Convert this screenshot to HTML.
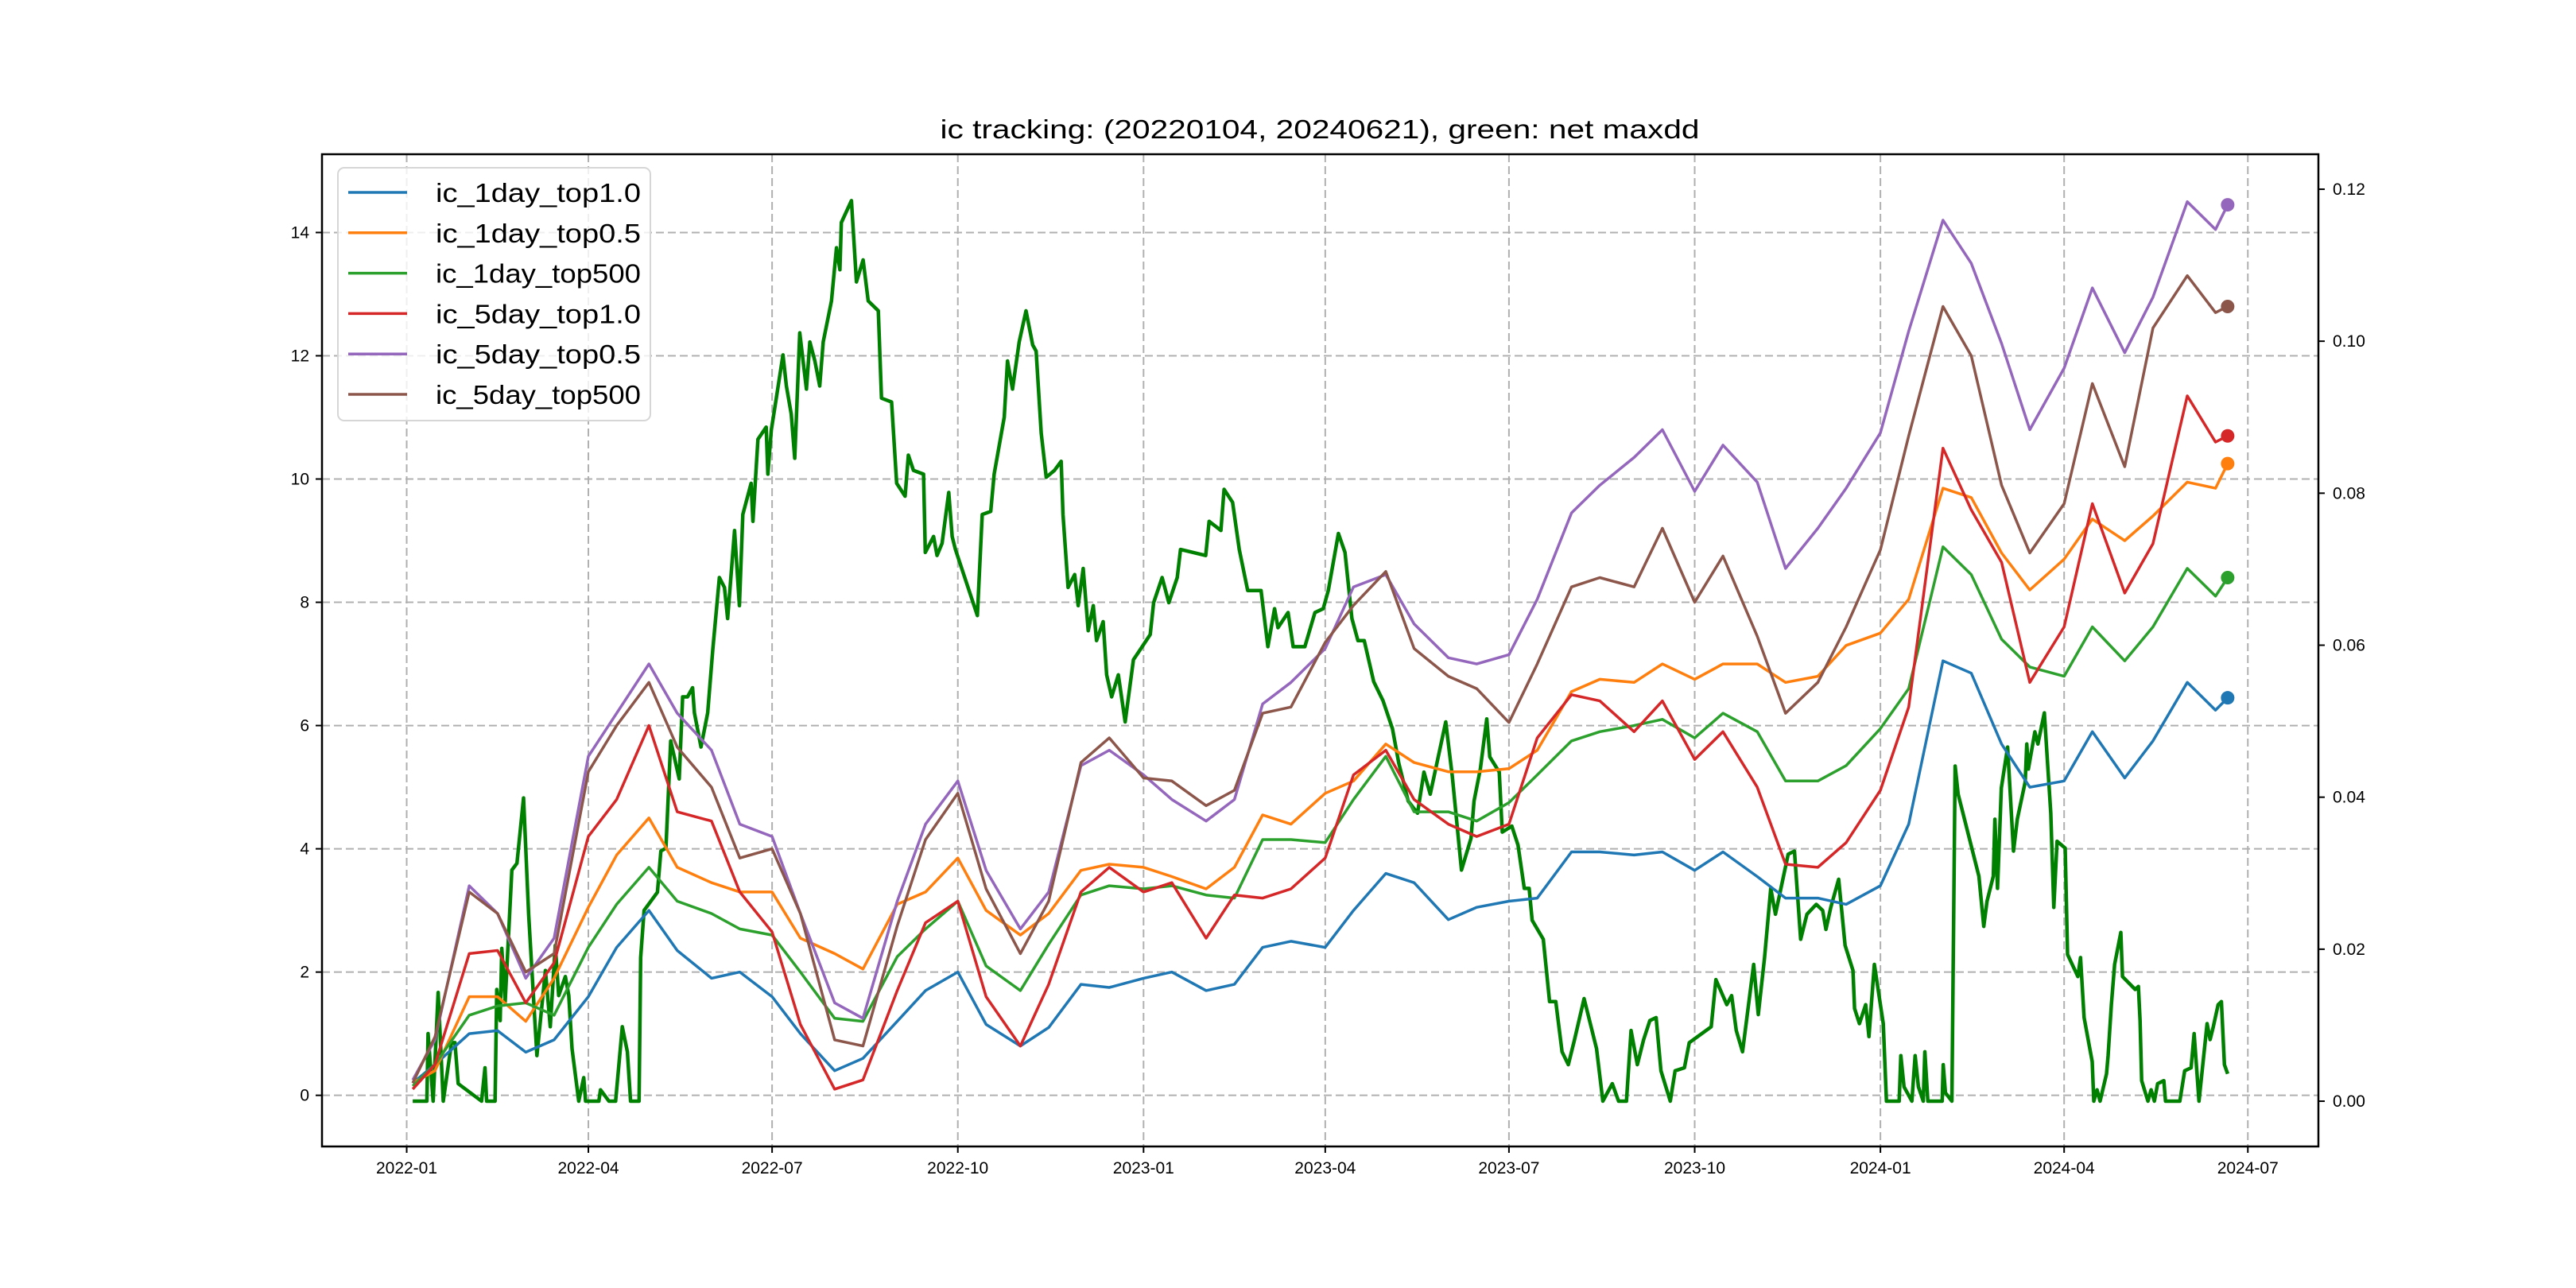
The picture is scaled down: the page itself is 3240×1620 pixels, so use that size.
<!DOCTYPE html>
<html><head><meta charset="utf-8"><title>ic tracking</title>
<style>html,body{margin:0;padding:0;background:#fff;}svg{display:block;}
text{font-family:"Liberation Sans","WenQuanYi Zen Hei",sans-serif;}</style></head>
<body>
<svg id="chart" xmlns="http://www.w3.org/2000/svg" width="3240" height="1620" viewBox="0 0 3240 1620">
<rect width="3240" height="1620" fill="#fff"/>
<text x="1660" y="174" font-size="33" text-anchor="middle" textLength="955" lengthAdjust="spacingAndGlyphs">ic tracking: (20220104, 20240621), green: net maxdd</text>
<g id="grid"></g>
<g id="series"></g>
<rect x="405" y="194" width="2511" height="1248" fill="none" stroke="#000" stroke-width="2.5"/>
<g id="axes"></g>
<g id="legend"></g>
</svg>
<script>
const dates = ["2022-01-04","2022-01-15","2022-02-01","2022-02-15","2022-03-01","2022-03-15","2022-04-01","2022-04-15","2022-05-01","2022-05-15","2022-06-01","2022-06-15","2022-07-01","2022-07-15","2022-08-01","2022-08-15","2022-09-01","2022-09-15","2022-10-01","2022-10-15","2022-11-01","2022-11-15","2022-12-01","2022-12-15","2023-01-01","2023-01-15","2023-02-01","2023-02-15","2023-03-01","2023-03-15","2023-04-01","2023-04-15","2023-05-01","2023-05-15","2023-06-01","2023-06-15","2023-07-01","2023-07-15","2023-08-01","2023-08-15","2023-09-01","2023-09-15","2023-10-01","2023-10-15","2023-11-01","2023-11-15","2023-12-01","2023-12-15","2024-01-01","2024-01-15","2024-02-01","2024-02-15","2024-03-01","2024-03-15","2024-04-01","2024-04-15","2024-05-01","2024-05-15","2024-06-01","2024-06-15","2024-06-21"];
const ic1dayTop10 = [0.2,0.5,1.0,1.05,0.7,0.9,1.6,2.4,3.0,2.35,1.9,2.0,1.6,1.0,0.4,0.6,1.2,1.7,2.0,1.15,0.8,1.1,1.8,1.75,1.9,2.0,1.7,1.8,2.4,2.5,2.4,3.0,3.6,3.45,2.85,3.05,3.15,3.2,3.95,3.95,3.9,3.95,3.65,3.95,3.55,3.2,3.2,3.1,3.4,4.4,7.05,6.85,5.7,5.0,5.1,5.9,5.15,5.75,6.7,6.25,6.45];
const ic1dayTop05 = [0.2,0.4,1.6,1.6,1.2,1.9,3.05,3.9,4.5,3.7,3.45,3.3,3.3,2.55,2.3,2.05,3.1,3.3,3.85,3.0,2.6,2.95,3.65,3.75,3.7,3.55,3.35,3.7,4.55,4.4,4.9,5.1,5.7,5.4,5.25,5.25,5.3,5.6,6.55,6.75,6.7,7.0,6.75,7.0,7.0,6.7,6.8,7.3,7.5,8.05,9.85,9.7,8.8,8.2,8.7,9.35,9.0,9.4,9.95,9.85,10.25];
const ic1dayTop500 = [0.15,0.5,1.3,1.45,1.5,1.3,2.4,3.1,3.7,3.15,2.95,2.7,2.6,2.0,1.25,1.2,2.25,2.7,3.15,2.1,1.7,2.45,3.25,3.4,3.35,3.4,3.25,3.2,4.15,4.15,4.1,4.8,5.5,4.6,4.6,4.45,4.75,5.2,5.75,5.9,6.0,6.1,5.8,6.2,5.9,5.1,5.1,5.35,5.95,6.6,8.9,8.45,7.4,6.95,6.8,7.6,7.05,7.6,8.55,8.1,8.4];
const ic5dayTop10 = [0.1,0.5,2.3,2.35,1.5,2.15,4.2,4.8,6.0,4.6,4.45,3.3,2.65,1.15,0.1,0.25,1.7,2.8,3.15,1.6,0.8,1.8,3.3,3.7,3.3,3.45,2.55,3.25,3.2,3.35,3.85,5.2,5.6,4.8,4.4,4.2,4.4,5.8,6.5,6.4,5.9,6.4,5.45,5.9,5.0,3.75,3.7,4.1,4.95,6.3,10.5,9.5,8.65,6.7,7.6,9.6,8.15,8.95,11.35,10.6,10.7];
const ic5dayTop05 = [0.25,0.9,3.4,2.95,1.9,2.55,5.5,6.2,7.0,6.2,5.6,4.4,4.2,2.95,1.5,1.25,3.15,4.4,5.1,3.65,2.7,3.3,5.35,5.6,5.2,4.8,4.45,4.8,6.35,6.7,7.25,8.25,8.45,7.65,7.1,7.0,7.15,8.05,9.45,9.9,10.35,10.8,9.8,10.55,9.95,8.55,9.2,9.85,10.75,12.4,14.2,13.5,12.2,10.8,11.8,13.1,12.05,12.95,14.5,14.05,14.45];
const ic5dayTop500 = [0.2,0.95,3.3,2.95,2.0,2.3,5.25,6.0,6.7,5.65,5.0,3.85,4.0,2.95,0.9,0.8,2.75,4.15,4.9,3.35,2.3,3.15,5.4,5.8,5.15,5.1,4.7,4.95,6.2,6.3,7.35,7.95,8.5,7.25,6.8,6.6,6.05,7.0,8.25,8.4,8.25,9.2,8.0,8.75,7.45,6.2,6.7,7.6,8.85,10.7,12.8,12.0,9.9,8.8,9.6,11.55,10.2,12.45,13.3,12.7,12.8];
// net maxdd (right axis): days since 2022-01-01 and values
const maxddDays = [3,10,10.6,13.1,15.6,18.1,22.2,23.9,25.5,37.1,38.8,39.6,43.8,44.6,46.3,47.1,48.8,52.1,54.6,57.9,60.4,64.5,68.7,71.1,73.6,75.3,78.6,80.3,81.9,85.2,87.7,88.6,95.2,96,100.2,103.5,106.8,109.3,110.9,115.1,115.9,117.6,124.2,125.9,128.4,130.8,135,136.7,139.1,141.6,142.5,145.8,149.1,151.6,154.9,157.4,159,162.4,164.8,166.5,170.6,171.5,174,178.1,178.9,180.6,183.1,186.4,188.1,190.5,192.2,194.7,198,199.7,202.2,204.6,206.3,210.4,212.9,214.6,215.3,220.3,222.8,226.1,228.6,233.6,235.2,240.2,242.7,246.9,248.5,251,256,256.9,261,262.7,265.2,268.5,270.2,271.8,282.7,285.1,289.3,291,296,297.6,300.1,303.4,306.8,310.1,311.8,314.3,316.8,320.9,324.2,325.1,327.6,330.9,332.6,335.1,337.6,340.1,341.7,345,346.7,349.2,352.5,355.9,360,363.3,368.3,370,374.2,377.5,381.7,383.3,395.8,397.5,403.3,404.9,409.1,412.4,416.6,423.2,426.6,429.9,431.6,436.6,439.1,444.9,449.9,454,456.5,461.5,464.8,468.2,471.2,474.3,479,483.6,488.3,491.4,496.1,500.7,503.9,507,514.7,517.9,522.5,527.2,528.7,531.8,535,536.5,541.2,542.7,547.4,550.5,553.6,556,557.5,563,566.1,569.2,572.3,575.4,578.5,583.2,589.4,592.5,597.2,600.3,604.2,606.5,609.6,612.7,615.8,618.9,621.3,625.9,628.3,632.9,635.3,646.2,648.5,653.9,656.3,658.6,661.7,667.2,669.5,672.6,675.7,678,684.3,687.4,690.5,693.6,698.2,701.4,703,705.4,709.3,712.5,716.4,717.2,719.6,722.7,724.3,727,731.4,733,739.3,740.1,741.7,745.6,747.2,748.8,751.2,752,753.5,760.6,761.1,762.2,765.4,767,768.5,778.8,781.2,782.8,785.9,786.7,788,789.9,793,795.9,797.8,801.7,802.5,803.3,806.5,808,811.2,814.4,815.9,817.5,821.5,822.7,827.8,829.1,830.9,834.9,835.7,837.3,838.8,842,842.8,844.4,846,849.1,849.9,856.2,857.8,858.6,859.4,862.5,864.1,865.7,867.3,870.4,871.2,878.3,880.7,883.9,885.4,887.8,891.8,893.3,894.9,897.3,898.9,900.4,902];
const maxddValues = [0,0,0.0089,0,0.0143,0,0.0077,0.0077,0.0023,0,0.0044,0,0,0.0147,0.0106,0.0201,0.0131,0.0304,0.0313,0.0399,0.0246,0.006,0.0172,0.0098,0.0205,0.0139,0.0164,0.0139,0.0069,0,0.0031,0,0,0.0015,0,0,0.0098,0.0065,0,0,0.0189,0.0251,0.0275,0.0329,0.0333,0.0474,0.0424,0.0532,0.0532,0.0544,0.0511,0.0466,0.0511,0.0594,0.0689,0.0676,0.0635,0.0751,0.0652,0.0772,0.0813,0.0763,0.0871,0.0887,0.0825,0.0883,0.0925,0.0982,0.0941,0.0904,0.0846,0.1011,0.0937,0.0999,0.0974,0.0941,0.0999,0.1053,0.1123,0.1094,0.1156,0.1185,0.1078,0.1107,0.1053,0.104,0.0925,0.092,0.0813,0.0796,0.085,0.083,0.0825,0.0722,0.0743,0.0718,0.0734,0.0801,0.0743,0.0726,0.0639,0.0772,0.0776,0.0825,0.09,0.0974,0.0937,0.0999,0.104,0.0995,0.0987,0.0879,0.0821,0.083,0.0842,0.0772,0.0676,0.0693,0.0652,0.0701,0.0619,0.0652,0.0606,0.0631,0.0561,0.0532,0.0561,0.0499,0.0581,0.0594,0.0614,0.0656,0.0689,0.0656,0.0689,0.0726,0.0718,0.0763,0.0751,0.0805,0.0788,0.0726,0.0672,0.0672,0.0598,0.0648,0.0623,0.0643,0.0598,0.0598,0.0643,0.0648,0.0672,0.0747,0.0722,0.0635,0.0606,0.0606,0.0552,0.0527,0.049,0.0445,0.0395,0.0379,0.0433,0.0404,0.0499,0.0428,0.0304,0.0346,0.0395,0.0437,0.0503,0.0453,0.0433,0.0354,0.0362,0.0337,0.028,0.028,0.0238,0.0213,0.0131,0.0131,0.0065,0.0048,0.0081,0.0135,0.0069,0,0.0023,0,0,0.0093,0.0048,0.0081,0.0106,0.011,0.004,0,0.004,0.0044,0.0077,0.0098,0.016,0.0127,0.0139,0.0093,0.0065,0.018,0.0114,0.0189,0.028,0.0246,0.0325,0.0329,0.0213,0.0246,0.0259,0.0251,0.0226,0.0255,0.0292,0.0205,0.0172,0.0122,0.0102,0.0127,0.0085,0.018,0.0102,0,0,0.006,0.0019,0,0.006,0.0019,0,0.0065,0,0,0.0048,0.0011,0,0.0441,0.0404,0.0296,0.023,0.0263,0.0296,0.0371,0.028,0.0412,0.0466,0.0329,0.0371,0.042,0.047,0.0437,0.0486,0.047,0.0511,0.0379,0.0255,0.0342,0.0333,0.0193,0.0164,0.0189,0.011,0.0052,0,0.0015,0,0.0036,0.006,0.0127,0.018,0.0222,0.0164,0.0147,0.0151,0.0106,0.0027,0,0.0015,0,0.0023,0.0027,0,0,0.004,0.0044,0.0089,0,0.0102,0.0081,0.0098,0.0127,0.0131,0.0048,0.0036];
const seriesNames = ["ic_1day_top1.0","ic_1day_top0.5","ic_1day_top500","ic_5day_top1.0","ic_5day_top0.5","ic_5day_top500"];
const leftTicks = [0,2,4,6,8,10,12,14];
const rightTicks = [0,0.02,0.04,0.06,0.08,0.10,0.12];
const xTickLabels = ["2022-01","2022-04","2022-07","2022-10","2023-01","2023-04","2023-07","2023-10","2024-01","2024-04","2024-07"];

const NS="http://www.w3.org/2000/svg";
const PL=405, PR=2916, PT=194, PB=1442;
const DAY=86400000, BASE=Date.UTC(2022,0,1);
function dayOf(s){const p=s.split("-").map(Number);return (Date.UTC(p[0],p[1]-1,p[2]||1)-BASE)/DAY;}
const d0=dayOf(dates[0]), d1=dayOf(dates[dates.length-1]), span=d1-d0;
const xMin=d0-0.05*span, xMax=d1+0.05*span;
function xScale(d){return PL+(d-xMin)/(xMax-xMin)*(PR-PL);}
const yLMin=-0.83, yLMax=15.27;
function yLeft(v){return PB-(v-yLMin)/(yLMax-yLMin)*(PB-PT);}
const yRMin=-0.00596, yRMax=0.1246;
function yRight(v){return PB-(v-yRMin)/(yRMax-yRMin)*(PB-PT);}
function mk(tag,attrs,parent){const e=document.createElementNS(NS,tag);for(const k in attrs)e.setAttribute(k,attrs[k]);parent.appendChild(e);return e;}

const grid=document.getElementById("grid"), axes=document.getElementById("axes");
leftTicks.forEach(t=>{const y=yLeft(t);
  const g=mk("line",{x1:PL,x2:PR,y1:y,y2:y,stroke:"#b0b0b0","stroke-width":2,"stroke-dasharray":"10 5"},grid);
  
  
  const tk=mk("line",{x1:PL-8,x2:PL,y1:y,y2:y,stroke:"#000","stroke-width":2},axes);
  
  
  const tx=mk("text",{x:PL-16,y:y+7,"font-size":21,"text-anchor":"end"},axes);tx.textContent=String(t);
  
  
});
rightTicks.forEach(t=>{const y=yRight(t);
  const tk=mk("line",{x1:PR,x2:PR+8,y1:y,y2:y,stroke:"#000","stroke-width":2},axes);
  
  
  const tx=mk("text",{x:PR+18,y:y+7,"font-size":21},axes);tx.textContent=t.toFixed(2);
  
  
});
xTickLabels.forEach(s=>{const x=xScale(dayOf(s+"-01"));
  const g=mk("line",{x1:x,x2:x,y1:PT,y2:PB,stroke:"#b0b0b0","stroke-width":2,"stroke-dasharray":"10 5"},grid);
  
  
  const tk=mk("line",{x1:x,x2:x,y1:PB,y2:PB+8,stroke:"#000","stroke-width":2},axes);
  
  
  const tx=mk("text",{x:x,y:PB+34,"font-size":21,"text-anchor":"middle"},axes);tx.textContent=s;
  
  
});

const seriesLayer=document.getElementById("series");
const colors=["#1f77b4","#ff7f0e","#2ca02c","#d62728","#9467bd","#8c564b"];
const seriesData=[ic1dayTop10,ic1dayTop05,ic1dayTop500,ic5dayTop10,ic5dayTop05,ic5dayTop500];
// maxdd line on right axis
(function(){
  const pts=maxddDays.map((d,i)=>xScale(d).toFixed(1)+","+yRight(maxddValues[i]).toFixed(1)).join(" ");
  const pl=mk("polyline",{points:pts,fill:"none",stroke:"#008000","stroke-width":4.5,"stroke-linejoin":"round"},seriesLayer);
  
  
})();
seriesData.forEach((arr,si)=>{
  const pts=arr.map((v,i)=>xScale(dayOf(dates[i])).toFixed(1)+","+yLeft(v).toFixed(1)).join(" ");
  const pl=mk("polyline",{points:pts,fill:"none",stroke:colors[si],"stroke-width":3.5,"stroke-linejoin":"round"},seriesLayer);
  
  
});
seriesData.forEach((arr,si)=>{
  const n=arr.length-1;
  const c=mk("circle",{cx:xScale(dayOf(dates[n])),cy:yLeft(arr[n]),r:8.5,fill:colors[si]},seriesLayer);
  
  
});

const legend=document.getElementById("legend");
const lb=mk("rect",{x:425,y:211,width:393,height:318,rx:8,fill:"#fff","fill-opacity":0.8,stroke:"#d6d6d6","stroke-width":2},legend);


seriesNames.forEach((nm,i)=>{
  const y=242+i*50.8;
  const ln=mk("line",{x1:438,x2:512,y1:y,y2:y,stroke:colors[i],"stroke-width":3.5},legend);
  
  
  const tx=mk("text",{x:548,y:y+12,"font-size":33,textLength:258,lengthAdjust:"spacingAndGlyphs"},legend);
  tx.textContent=nm;
  
  
});
</script>
</body></html>
